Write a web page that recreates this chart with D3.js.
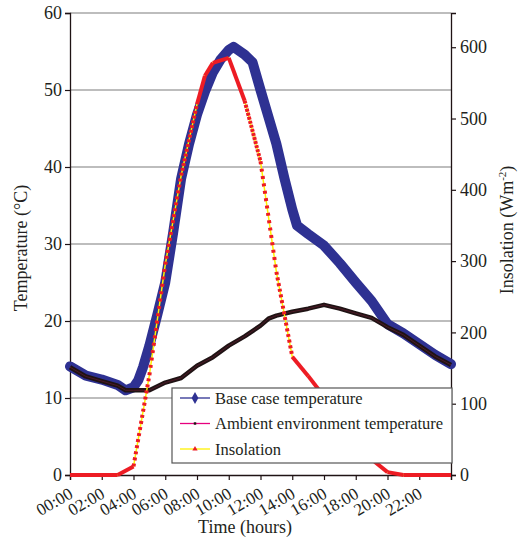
<!DOCTYPE html>
<html>
<head>
<meta charset="utf-8">
<script src="https://cdn.jsdelivr.net/npm/d3@7"></script>
<style>
    body { margin: 0; background: #fff; }
    svg text { font-family: "Liberation Serif", "DejaVu Serif", serif; fill: #231f20; }
</style>
</head>
<body>
<svg width="523" height="540"></svg>
<script>
// values (time in hours)
let baseHours = [0, 1, 2, 3, 3.5, 4, 4.3, 4.6, 5, 5.5, 6, 6.5, 7, 7.5, 8, 8.5, 9, 9.5, 10, 10.3,
                 11, 11.5, 12, 12.5, 13, 13.5, 14, 14.3, 15, 16, 17, 18, 19, 20, 21, 22, 23, 24],
    baseTemps = [14.1, 12.9, 12.4, 11.7, 11.0, 11.4, 12.3, 14.0, 16.8, 20.8, 25.0, 31.5, 38.5, 43.0, 46.8, 49.8, 52.3, 54.0, 55.2, 55.6,
                 54.6, 53.6, 50.0, 46.5, 43.0, 38.6, 34.5, 32.4, 31.3, 29.8, 27.5, 25.0, 22.6, 19.6, 18.4, 17.0, 15.6, 14.4];

let ambientHours = [0, 1, 2, 3, 3.5, 4, 5, 6, 7, 8, 9, 10, 11, 12, 12.5, 13, 14, 15, 16, 17, 18, 19, 20, 21, 22, 23, 24],
    ambientTemps = [14.0, 12.8, 12.2, 11.6, 11.0, 11.0, 11.0, 12.0, 12.6, 14.2, 15.3, 16.8, 18.0, 19.4, 20.3, 20.7, 21.2, 21.6, 22.1, 21.6, 21.0, 20.4, 19.2, 18.2, 16.8, 15.4, 14.3];

let insolHours = [0, 3, 4, 5, 6, 7, 8, 8.5, 9, 10, 11, 12, 13, 14, 15, 16, 17, 18, 19, 20, 21, 24],
    insolValues = [0, 0, 12, 140, 295, 420, 520, 560, 578, 585, 525, 440, 285, 166, 139, 110, 80, 50, 22, 4, 0, 0];

let tempTicks = [0, 10, 20, 30, 40, 50, 60],
    insolTicks = [0, 100, 200, 300, 400, 500, 600],
    timeTicks = [0, 2, 4, 6, 8, 10, 12, 14, 16, 18, 20, 22],
    timeLabels = ['00:00', '02:00', '04:00', '06:00', '08:00', '10:00', '12:00', '14:00', '16:00', '18:00', '20:00', '22:00'];

let legendNames = ['Base case temperature', 'Ambient environment temperature', 'Insolation'];

const plotL = 70, plotR = 451, plotT = 13, plotB = 475;
const blue = '#2e3192', dark = '#1f1314', red = '#ed1c24', yellow = '#fff200';

let svg = d3.select('svg');

let x = d3.scaleLinear().domain([0, 24]).range([plotL, plotR]),
    yT = d3.scaleLinear().domain([0, 60]).range([plotB, plotT]),
    yI = d3.scaleLinear().domain([0, 648]).range([plotB, plotT]);

// grid lines
svg.append('g')
    .selectAll('line')
    .data(tempTicks.slice(1))
    .enter()
    .append('line')
    .attr('x1', plotL).attr('x2', plotR)
    .attr('y1', d => yT(d)).attr('y2', d => yT(d))
    .attr('stroke', '#7d7d7d')
    .attr('stroke-width', 1.2);

// axes
let axL = svg.append('g')
    .attr('transform', `translate(${plotL},0)`)
    .call(d3.axisLeft(yT).tickValues(tempTicks).tickSize(5).tickPadding(3));

let axR = svg.append('g')
    .attr('transform', `translate(${plotR},0)`)
    .call(d3.axisRight(yI).tickValues(insolTicks).tickSize(5).tickPadding(4));

let axB = svg.append('g')
    .attr('transform', `translate(0,${plotB})`)
    .call(d3.axisBottom(x).tickValues(timeTicks.concat([24])).tickSize(5).tickFormat(''));

[axL, axR, axB].forEach(ax => {
    ax.attr('font-family', null);
    ax.select('.domain').attr('stroke', dark).attr('stroke-width', 1.3);
    ax.selectAll('.tick line').attr('stroke', dark).attr('stroke-width', 1.2);
    ax.selectAll('text').style('font-size', '18px').attr('fill', dark);
});

// rotated time labels
svg.append('g')
    .selectAll('text')
    .data(timeTicks)
    .enter()
    .append('text')
    .attr('transform', d => `translate(${x(d) + 4},${plotB + 22}) rotate(-30)`)
    .attr('text-anchor', 'end')
    .style('font-size', '17px')
    .text((d, i) => timeLabels[i]);

// axis titles
svg.append('text')
    .attr('transform', `translate(27,${(plotT + plotB) / 2 + 4}) rotate(-90)`)
    .attr('text-anchor', 'middle')
    .style('font-size', '18px')
    .text('Temperature (°C)');

let rt = svg.append('text')
    .attr('transform', `translate(513,${(plotT + plotB) / 2 - 14}) rotate(-90)`)
    .attr('text-anchor', 'middle')
    .style('font-size', '18px');
rt.append('tspan').text('Insolation (Wm');
rt.append('tspan').attr('dy', -7).style('font-size', '11px').text('-2');
rt.append('tspan').attr('dy', 7).text(')');

svg.append('text')
    .attr('x', 245).attr('y', 533)
    .attr('text-anchor', 'middle')
    .style('font-size', '18px')
    .text('Time (hours)');

// series
let lineT = d3.line().x(d => x(d[0])).y(d => yT(d[1])),
    lineI = d3.line().x(d => x(d[0])).y(d => yI(d[1]));

let basePts = baseHours.map((h, i) => [h, baseTemps[i]]),
    ambientPts = ambientHours.map((h, i) => [h, ambientTemps[i]]),
    insolPts = insolHours.map((h, i) => [h, insolValues[i]]);

svg.append('path')
    .attr('d', lineT(basePts))
    .attr('fill', 'none')
    .attr('stroke', blue)
    .attr('stroke-width', 10)
    .attr('stroke-linejoin', 'round')
    .attr('stroke-linecap', 'round');

svg.append('path')
    .attr('d', lineT(ambientPts))
    .attr('fill', 'none')
    .attr('stroke', dark)
    .attr('stroke-width', 4.5)
    .attr('stroke-linejoin', 'round');

svg.append('path')
    .attr('d', lineT(ambientPts))
    .attr('fill', 'none')
    .attr('stroke', '#5b1b2b')
    .attr('stroke-width', 0.8);

// insolation: markers at a steady time step, so they merge where the curve is flat
let markersPerHour = 15;
let insolG = svg.append('g');
insolG.append('path')
    .attr('d', lineI(insolPts))
    .attr('fill', 'none')
    .attr('stroke', yellow)
    .attr('stroke-width', 1.5);

d3.pairs(insolPts).forEach(seg => {
    let x0 = x(seg[0][0]), y0 = yI(seg[0][1]), x1 = x(seg[1][0]), y1 = yI(seg[1][1]);
    let len = Math.hypot(x1 - x0, y1 - y0),
        step = len / ((seg[1][0] - seg[0][0]) * markersPerHour),
        gap = step - 3;
    insolG.append('path')
        .attr('d', lineI(seg))
        .attr('fill', 'none')
        .attr('stroke', red)
        .attr('stroke-width', 4)
        .attr('stroke-dasharray', gap > 1 ? `3 ${gap}` : null);
});

// legend
let lg = svg.append('g').attr('transform', 'translate(172,388)');
lg.append('rect')
    .attr('width', 280).attr('height', 75)
    .attr('fill', '#fff')
    .attr('stroke', '#555')
    .attr('stroke-width', 1.2);

let legendColors = [blue, '#e6007e', yellow];
let rows = lg.selectAll('.legend')
    .data(legendNames)
    .enter()
    .append('g')
    .attr('class', 'legend')
    .attr('transform', (d, i) => `translate(0,${10 + i * 25.5})`);

rows.append('line')
    .attr('x1', 8).attr('x2', 38)
    .attr('stroke', (d, i) => legendColors[i])
    .attr('stroke-width', 1.3);

rows.append('path')
    .attr('transform', 'translate(23,0)')
    .attr('d', (d, i) => d3.symbol().type([d3.symbolDiamond, d3.symbolSquare, d3.symbolTriangle][i]).size([40, 6, 12][i])())
    .attr('fill', (d, i) => [blue, dark, red][i]);

rows.append('text')
    .attr('x', 43).attr('y', 5.5)
    .style('font-size', '16.5px')
    .text(d => d);
</script>
</body>
</html>
